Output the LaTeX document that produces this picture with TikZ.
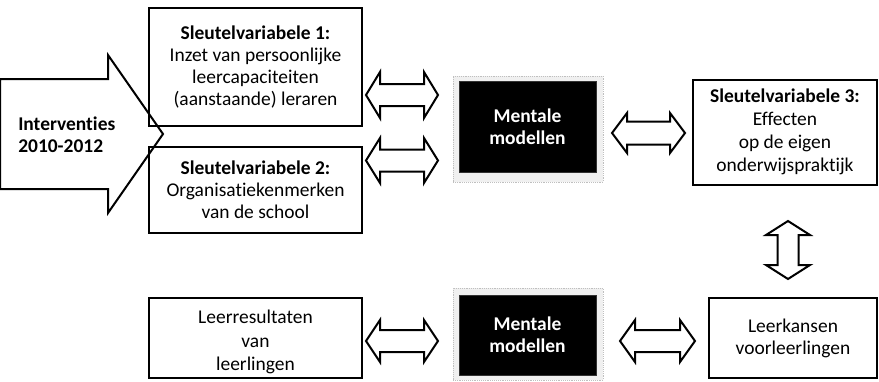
\documentclass[tikz,border=0pt]{standalone}
\usepackage{fontspec}
\setmainfont{Carlito}[Ligatures=NoCommon]
\newcommand\hdblarrow[6]{% x1 x2 yc headhalf shafthalf headlen
  \draw[blk] (#1,#3) -- (#1+#6,#3-#4) -- (#1+#6,#3-#5) -- (#2-#6,#3-#5) -- (#2-#6,#3-#4) -- (#2,#3)
    -- (#2-#6,#3+#4) -- (#2-#6,#3+#5) -- (#1+#6,#3+#5) -- (#1+#6,#3+#4) -- cycle;}
\newcommand\vdblarrow[6]{% y1 y2 xc headhalf shafthalf headlen
  \draw[blk] (#3,#1) -- (#3+#4,#1+#6) -- (#3+#5,#1+#6) -- (#3+#5,#2-#6) -- (#3+#4,#2-#6) -- (#3,#2)
    -- (#3-#4,#2-#6) -- (#3-#5,#2-#6) -- (#3-#5,#1+#6) -- (#3-#4,#1+#6) -- cycle;}
\begin{document}
\begin{tikzpicture}[x=0.75pt,y=-0.75pt,
  txt/.style={font=\fontsize{14.6}{16.6}\selectfont},
  box/.style={draw, line width=1.5pt, align=center, inner sep=0pt, txt},
  mm/.style={fill=black, draw=black!80, line width=0.6pt, text=white, align=center, inner sep=0pt,
     font=\fontsize{14.6}{16.6}\selectfont\bfseries, minimum width=102.75pt},
  frame/.style={fill=black!6, draw=black!25, line width=0.4pt, densely dotted, inner sep=0pt, minimum width=112.5pt},
  blk/.style={draw, line width=1.5pt, fill=white, line join=miter}]
\useasboundingbox (0,0) rectangle (879,382);
% big arrow
\draw[blk] (0,79) -- (108,79) -- (108,55) -- (163,134) -- (108,213) -- (108,189) -- (0,189) -- cycle;
\node[txt, font=\fontsize{14.6}{16.6}\selectfont\bfseries, align=left, anchor=west, inner sep=0pt] (iv) at (18,135) {Interventies\\2010-2012};
% boxes
\node[box, minimum width=159.75pt, minimum height=88.5pt] (sv1) at (255.5,67)
  {\textbf{Sleutelvariabele 1:}\\Inzet van persoonlijke\\leercapaciteiten\\(aanstaande) leraren};
\node[box, minimum width=159.75pt, minimum height=64.5pt] (sv2) at (255.5,190)
  {\textbf{Sleutelvariabele 2:}\\Organisatiekenmerken\\van de school};
\node[box, minimum width=159.75pt, minimum height=60pt] (lr) at (255.5,338) {};
\node[txt, font=\fontsize{14.6}{17.6}\selectfont, align=center, inner sep=0pt] (lrt) at (255.5,342)
  {Leerresultaten\\van\\leerlingen};
\node[box, minimum width=138pt, minimum height=78.75pt, font=\fontsize{14.6}{17.2}\selectfont] (sv3) at (785,132)
  {\textbf{Sleutelvariabele 3:}\\Effecten\\op de eigen\\onderwijspraktijk};
\node[box, minimum width=126pt, minimum height=60pt] (lk) at (793,338)
  {Leerkansen\\voorleerlingen};
% mental models
\node[frame, minimum height=79.5pt] (f1) at (528,129) {};
\node[mm, minimum height=68.25pt] (mm1) at (527.5,126.5) {Mentale\\modellen};
\node[frame, minimum height=69pt] (f2) at (528,334) {};
\node[mm, minimum height=60pt] (mm2) at (527.5,335) {Mentale\\modellen};
% double arrows
\hdblarrow{366}{438}{95}{23}{11}{14}
\hdblarrow{366}{438}{160.5}{22.5}{11}{14}
\hdblarrow{612}{685}{133}{20}{11.5}{15}
\hdblarrow{366}{438}{341}{21}{11}{14}
\hdblarrow{620}{695}{341}{21}{11}{15}
\vdblarrow{221}{279}{788}{22}{10.5}{14}
\end{tikzpicture}
\end{document}
